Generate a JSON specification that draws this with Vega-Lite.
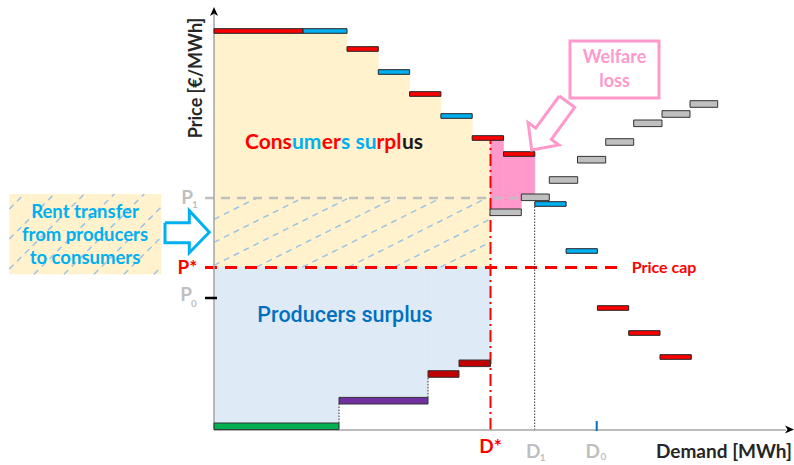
{
  "$schema": "https://vega.github.io/schema/vega-lite/v6.json",
  "width": 794,
  "height": 465,
  "padding": 0,
  "autosize": {"type": "fit", "contains": "padding"},
  "background": "white",
  "config": {"view": {"stroke": null}, "text": {"font": "Lato", "fontWeight": "bold"}},
  "encoding": {
    "x": {"field": "q", "type": "quantitative", "scale": {"domain": [-214, 580], "nice": false, "zero": false}, "axis": null},
    "y": {"field": "p", "type": "quantitative", "scale": {"domain": [-35, 430], "nice": false, "zero": false}, "axis": null}
  },
  "layer": [
    {
      "data": {"values": [{"q": -204.7, "q2": -52.7, "p": 155.7, "p2": 236}]},
      "mark": {"type": "rect", "fill": "#FFF2CC"},
      "encoding": {"x2": {"field": "q2"}, "y2": {"field": "p2"}}
    },
    {
      "data": {"values": [
        {"q": 0, "q2": 133, "p": 163, "p2": 399},
        {"q": 133, "q2": 164.3, "p": 163, "p2": 381},
        {"q": 164.3, "q2": 195.6, "p": 163, "p2": 358},
        {"q": 195.6, "q2": 226.9, "p": 163, "p2": 336},
        {"q": 226.9, "q2": 258.2, "p": 163, "p2": 314},
        {"q": 258.2, "q2": 276.5, "p": 163, "p2": 292}
      ]},
      "mark": {"type": "rect", "fill": "#FFF2CC", "stroke": "#FFF2CC", "strokeWidth": 0.6},
      "encoding": {"x2": {"field": "q2"}, "y2": {"field": "p2"}}
    },
    {
      "data": {"values": [
        {"q": 0, "q2": 125, "p": 3.7, "p2": 163},
        {"q": 125, "q2": 214, "p": 29.3, "p2": 163},
        {"q": 214, "q2": 245, "p": 56, "p2": 163},
        {"q": 245, "q2": 276.5, "p": 66.7, "p2": 163}
      ]},
      "mark": {"type": "rect", "fill": "#DEEAF6", "stroke": "#DEEAF6", "strokeWidth": 0.6},
      "encoding": {"x2": {"field": "q2"}, "y2": {"field": "p2"}}
    },
    {
      "data": {"values": [
        {"q": 0, "p": 210.7, "q2": 42.6, "p2": 232},
        {"q": 0, "p": 187.7, "q2": 88.6, "p2": 232},
        {"q": 0, "p": 164.7, "q2": 134.6, "p2": 232},
        {"q": 42.6, "p": 163, "q2": 180.6, "p2": 232},
        {"q": 88.6, "p": 163, "q2": 226.6, "p2": 232},
        {"q": 134.6, "p": 163, "q2": 272.6, "p2": 232},
        {"q": 180.6, "p": 163, "q2": 276.5, "p2": 211},
        {"q": 226.6, "p": 163, "q2": 276.5, "p2": 188},
        {"q": -204.7, "p": 221, "q2": -189.7, "p2": 236},
        {"q": -204.7, "p": 191, "q2": -159.7, "p2": 236},
        {"q": -204.7, "p": 161, "q2": -129.7, "p2": 236},
        {"q": -180, "p": 155.7, "q2": -99.7, "p2": 236},
        {"q": -150, "p": 155.7, "q2": -69.7, "p2": 236},
        {"q": -120, "p": 155.7, "q2": -52.7, "p2": 223},
        {"q": -90, "p": 155.7, "q2": -52.7, "p2": 193},
        {"q": -60, "p": 155.7, "q2": -52.7, "p2": 163}
      ]},
      "mark": {"type": "rule", "color": "#9DC3E6", "strokeWidth": 1.5, "strokeDash": [6, 5]},
      "encoding": {"x2": {"field": "q2"}, "y2": {"field": "p2"}}
    },
    {
      "data": {"values": [
        {"q": 276.5, "q2": 289.5, "p": 217.7, "p2": 292},
        {"q": 289.5, "q2": 307.3, "p": 217.7, "p2": 276},
        {"q": 307.3, "q2": 320.8, "p": 232.7, "p2": 276}
      ]},
      "mark": {"type": "rect", "fill": "#FF99CC", "stroke": "#FF99CC", "strokeWidth": 0.6},
      "encoding": {"x2": {"field": "q2"}, "y2": {"field": "p2"}}
    },
    {
      "data": {"values": [{"q": -9, "q2": 306, "p": 232, "p2": 232}]},
      "mark": {"type": "rule", "color": "#BFBFBF", "strokeWidth": 2.5, "strokeDash": [9, 7]},
      "encoding": {"x2": {"field": "q2"}, "y2": {"field": "p2"}}
    },
    {
      "data": {"values": [{"q": -9, "q2": 407, "p": 162.5, "p2": 162.5}]},
      "mark": {"type": "rule", "color": "#FF0000", "strokeWidth": 3, "strokeDash": [12, 8]},
      "encoding": {"x2": {"field": "q2"}, "y2": {"field": "p2"}}
    },
    {
      "data": {"values": [{"q": 276.5, "q2": 276.5, "p": 0, "p2": 292}]},
      "mark": {"type": "rule", "color": "#FF0000", "strokeWidth": 2, "strokeDash": [12, 4, 2, 4]},
      "encoding": {"x2": {"field": "q2"}, "y2": {"field": "p2"}}
    },
    {
      "data": {"values": [
        {"q": 320.7, "q2": 320.7, "p": 0, "p2": 224},
        {"q": 125, "q2": 125, "p": 7, "p2": 26},
        {"q": 214, "q2": 214, "p": 32.6, "p2": 52.7}
      ]},
      "mark": {"type": "rule", "color": "#333333", "strokeWidth": 1, "strokeDash": [1.5, 1.5]},
      "encoding": {"x2": {"field": "q2"}, "y2": {"field": "p2"}}
    },
    {
      "data": {"values": [
        {"q": 0, "q2": 0, "p": 0, "p2": 416},
        {"q": 0, "q2": 572, "p": 0, "p2": 0}
      ]},
      "mark": {"type": "rule", "color": "#A6A6A6", "strokeWidth": 1.5},
      "encoding": {"x2": {"field": "q2"}, "y2": {"field": "p2"}}
    },
    {
      "data": {"values": [{"q": 0, "p": 418}]},
      "mark": {"type": "point", "shape": "M0,-1L0.8,0.8L0,0.3L-0.8,0.8Z", "filled": true, "color": "#000000", "opacity": 1, "size": 100}
    },
    {
      "data": {"values": [{"q": 575, "p": 0.5}]},
      "mark": {"type": "point", "shape": "M1,0L-0.8,0.8L-0.3,0L-0.8,-0.8Z", "filled": true, "color": "#000000", "opacity": 1, "size": 100}
    },
    {
      "data": {"values": [{"q": -9, "q2": 3, "p": 132, "p2": 132}]},
      "mark": {"type": "rule", "color": "#000000", "strokeWidth": 2.5},
      "encoding": {"x2": {"field": "q2"}, "y2": {"field": "p2"}}
    },
    {
      "data": {"values": [{"q": 382.7, "q2": 382.7, "p": -1, "p2": 9}]},
      "mark": {"type": "rule", "color": "#0070C0", "strokeWidth": 2},
      "encoding": {"x2": {"field": "q2"}, "y2": {"field": "p2"}}
    },
    {
      "data": {"values": [
        {"q": 0, "q2": 125, "p": 3.7, "kind": "Renewables"},
        {"q": 125, "q2": 214, "p": 29.3, "kind": "Nuclear"},
        {"q": 214, "q2": 245, "p": 56, "kind": "Coal"},
        {"q": 245, "q2": 276.5, "p": 66.7, "kind": "Coal"},
        {"q": 276, "q2": 307.3, "p": 217.7, "kind": "Gas"},
        {"q": 307.3, "q2": 335.3, "p": 232.7, "kind": "Gas"},
        {"q": 335.3, "q2": 363.7, "p": 250, "kind": "Gas"},
        {"q": 363.5, "q2": 391.7, "p": 270.3, "kind": "Gas"},
        {"q": 391.7, "q2": 419.7, "p": 288, "kind": "Gas"},
        {"q": 419.7, "q2": 448, "p": 306.7, "kind": "Gas"},
        {"q": 448, "q2": 476, "p": 316, "kind": "Gas"},
        {"q": 476, "q2": 503.7, "p": 326, "kind": "Gas"}
      ]},
      "mark": {"type": "rect", "stroke": "#333333", "strokeWidth": 1, "yOffset": -3.3, "y2Offset": 3.3},
      "encoding": {
        "x2": {"field": "q2"},
        "y2": {"field": "p"},
        "color": {"field": "kind", "type": "nominal", "legend": null,
          "scale": {"domain": ["Renewables", "Nuclear", "Coal", "Gas"], "range": ["#00B050", "#7030A0", "#C00000", "#BFBFBF"]}}
      }
    },
    {
      "data": {"values": [
        {"q": 0, "q2": 89, "p": 399, "kind": "Buyer A"},
        {"q": 89, "q2": 133, "p": 399, "kind": "Buyer B"},
        {"q": 133, "q2": 164.3, "p": 381, "kind": "Buyer A"},
        {"q": 164.3, "q2": 195.6, "p": 358, "kind": "Buyer B"},
        {"q": 195.6, "q2": 226.9, "p": 336, "kind": "Buyer A"},
        {"q": 226.9, "q2": 258.2, "p": 314, "kind": "Buyer B"},
        {"q": 258.2, "q2": 289.5, "p": 292, "kind": "Buyer A"},
        {"q": 289.5, "q2": 320.8, "p": 276, "kind": "Buyer A"},
        {"q": 320.8, "q2": 352.1, "p": 226, "kind": "Buyer B"},
        {"q": 352.1, "q2": 383.4, "p": 179, "kind": "Buyer B"},
        {"q": 383.4, "q2": 414.7, "p": 122, "kind": "Buyer A"},
        {"q": 414.7, "q2": 446, "p": 97, "kind": "Buyer A"},
        {"q": 446, "q2": 477.3, "p": 73, "kind": "Buyer A"}
      ]},
      "mark": {"type": "rect", "stroke": "#222222", "strokeWidth": 1, "yOffset": -2.3, "y2Offset": 2.3},
      "encoding": {
        "x2": {"field": "q2"},
        "y2": {"field": "p"},
        "color": {"field": "kind", "type": "nominal", "legend": null,
          "scale": {"domain": ["Buyer A", "Buyer B"], "range": ["#FF0000", "#00B0F0"]}}
      }
    },
    {
      "data": {"values": [
        {"i": 0, "q": -49, "p": 207.3},
        {"i": 1, "q": -24.7, "p": 207.3},
        {"i": 2, "q": -24.7, "p": 219.3},
        {"i": 3, "q": -4.7, "p": 197.7},
        {"i": 4, "q": -24.7, "p": 177.3},
        {"i": 5, "q": -24.7, "p": 187.3},
        {"i": 6, "q": -49, "p": 187.3},
        {"i": 7, "q": -49, "p": 207.3}
      ]},
      "mark": {"type": "line", "color": "#00B0F0", "strokeWidth": 3, "strokeJoin": "miter"},
      "encoding": {"order": {"field": "i", "type": "quantitative"}}
    },
    {
      "data": {"values": [{"q": 356, "q2": 445, "p": 332, "p2": 389}]},
      "mark": {"type": "rect", "fill": "white", "stroke": "#FF99CC", "strokeWidth": 3},
      "encoding": {"x2": {"field": "q2"}, "y2": {"field": "p2"}}
    },
    {
      "data": {"values": [
        {"i": 0, "q": 345.3, "p": 334},
        {"i": 1, "q": 321.7, "p": 301.9},
        {"i": 2, "q": 314.1, "p": 307.4},
        {"i": 3, "q": 317.7, "p": 280},
        {"i": 4, "q": 344.9, "p": 285},
        {"i": 5, "q": 337.3, "p": 290.5},
        {"i": 6, "q": 360.7, "p": 322.7},
        {"i": 7, "q": 345.3, "p": 334}
      ]},
      "mark": {"type": "line", "color": "#FF99CC", "strokeWidth": 3, "strokeJoin": "miter"},
      "encoding": {"order": {"field": "i", "type": "quantitative"}}
    },
    {
      "data": {"values": [
        {"q": 31, "p": 287, "t": "Cons", "tone": "r"},
        {"q": 78, "p": 287, "t": "um", "tone": "b"},
        {"q": 107.8, "p": 287, "t": "er", "tone": "r"},
        {"q": 127.1, "p": 287, "t": "s", "tone": "b"},
        {"q": 141.6, "p": 287, "t": "su", "tone": "b"},
        {"q": 162.4, "p": 287, "t": "rpl", "tone": "r"},
        {"q": 188, "p": 287, "t": "us", "tone": "k"}
      ]},
      "mark": {"type": "text", "align": "left", "baseline": "middle", "fontSize": 21},
      "encoding": {
        "text": {"field": "t"},
        "color": {"field": "tone", "type": "nominal", "legend": null,
          "scale": {"domain": ["r", "b", "k"], "range": ["#FF0000", "#00B0F0", "#1A1A1A"]}}
      }
    },
    {
      "data": {"values": [{"q": 131, "p": 114, "t": "Producers surplus"}]},
      "mark": {"type": "text", "align": "center", "baseline": "middle", "fontSize": 21.5, "fontWeight": 500, "font": "Roboto", "color": "#0070C0"},
      "encoding": {"text": {"field": "t"}}
    },
    {
      "data": {"values": [
        {"q": -129, "p": 218.3, "t": "Rent transfer"},
        {"q": -129, "p": 195, "t": "from producers"},
        {"q": -129, "p": 171.7, "t": "to consumers"}
      ]},
      "mark": {"type": "text", "align": "center", "baseline": "middle", "fontSize": 18.5, "color": "#00B0F0"},
      "encoding": {"text": {"field": "t"}}
    },
    {
      "data": {"values": [
        {"q": 400.5, "p": 372, "t": "Welfare"},
        {"q": 400.5, "p": 348, "t": "loss"}
      ]},
      "mark": {"type": "text", "align": "center", "baseline": "middle", "fontSize": 18, "color": "#FF99CC"},
      "encoding": {"text": {"field": "t"}}
    },
    {
      "data": {"values": [
        {"q": 276.5, "p": -17, "t": "D*"},
        {"q": -26.5, "p": 162, "t": "P*"}
      ]},
      "mark": {"type": "text", "align": "center", "baseline": "middle", "fontSize": 19, "color": "#FF0000"},
      "encoding": {"text": {"field": "t"}}
    },
    {
      "data": {"values": [{"q": 417.7, "p": 162, "t": "Price cap"}]},
      "mark": {"type": "text", "align": "left", "baseline": "middle", "fontSize": 16, "color": "#FF0000"},
      "encoding": {"text": {"field": "t"}}
    },
    {
      "data": {"values": [
        {"q": -27, "p": 231.7, "t": "P"},
        {"q": -28, "p": 135, "t": "P"},
        {"q": 319.3, "p": -21.7, "t": "D"},
        {"q": 378.7, "p": -21.7, "t": "D"}
      ]},
      "mark": {"type": "text", "align": "center", "baseline": "middle", "fontSize": 19, "color": "#BFBFBF"},
      "encoding": {"text": {"field": "t"}}
    },
    {
      "data": {"values": [
        {"q": -19, "p": 225, "t": "1"},
        {"q": -20, "p": 126, "t": "0"},
        {"q": 328.7, "p": -28, "t": "1"},
        {"q": 389.3, "p": -26.7, "t": "0"}
      ]},
      "mark": {"type": "text", "align": "center", "baseline": "middle", "fontSize": 10, "color": "#BFBFBF"},
      "encoding": {"text": {"field": "t"}}
    },
    {
      "data": {"values": [{"q": -17, "p": 352, "t": "Price [€/MWh]"}]},
      "mark": {"type": "text", "align": "center", "baseline": "middle", "angle": 270, "fontSize": 18, "color": "#262626"},
      "encoding": {"text": {"field": "t"}}
    },
    {
      "data": {"values": [{"q": 510, "p": -22, "t": "Demand [MWh]"}]},
      "mark": {"type": "text", "align": "center", "baseline": "middle", "fontSize": 19, "color": "#262626"},
      "encoding": {"text": {"field": "t"}}
    }
  ],
  "resolve": {"scale": {"color": "independent"}}
}
